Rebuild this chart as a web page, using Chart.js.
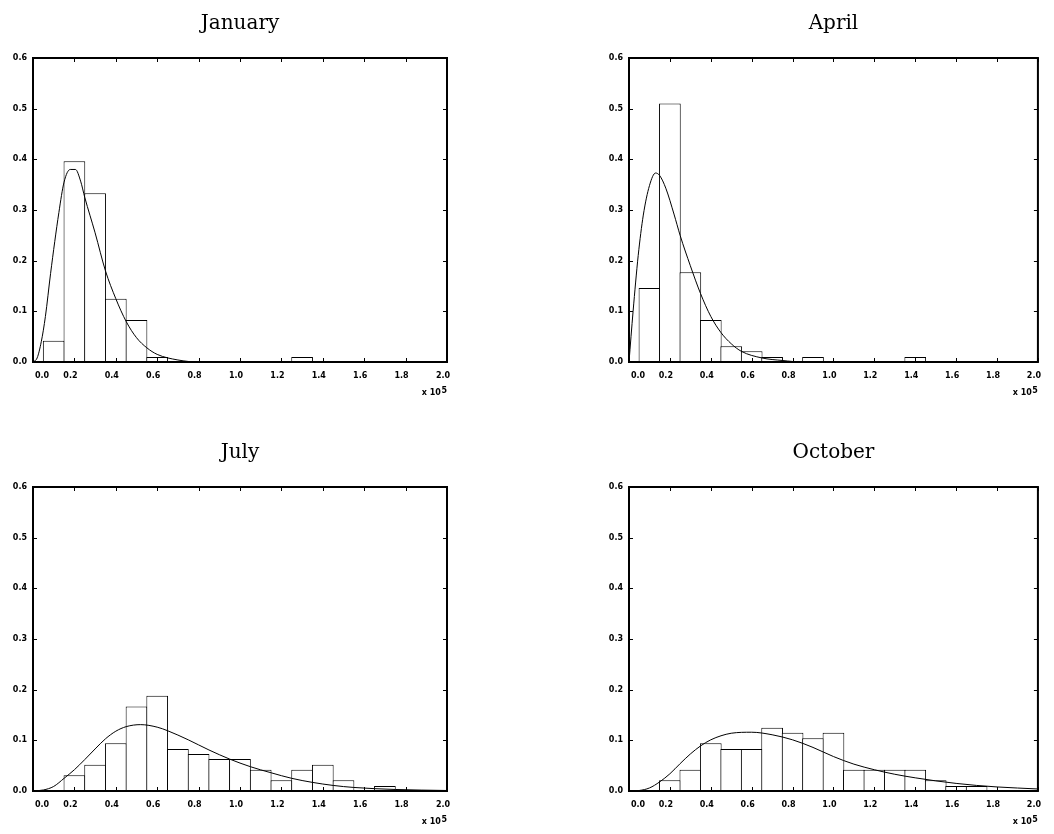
<!DOCTYPE html>
<html>
<head>
<meta charset="utf-8">
<script src="https://cdn.jsdelivr.net/npm/chart.js@4.4.1/dist/chart.umd.min.js"></script>
<style>
  html, body { margin: 0; padding: 0; background: #fff; }
  body { width: 1054px; height: 834px; position: relative; overflow: hidden; }
  .panel { position: absolute; }
</style>
</head>
<body>
<div class="panel" style="left:0;top:0"><canvas id="janChart" width="480" height="410"></canvas></div>
<div class="panel" style="left:596px;top:0"><canvas id="aprChart" width="458" height="410"></canvas></div>
<div class="panel" style="left:0;top:430px"><canvas id="julChart" width="480" height="404"></canvas></div>
<div class="panel" style="left:596px;top:430px"><canvas id="octChart" width="458" height="404"></canvas></div>
<script>
// Histogram bins (centres, x 10^5)
const binCenters = [0.1, 0.2, 0.3, 0.4, 0.5, 0.6, 0.7, 0.8, 0.9, 1.0,
                    1.1, 1.2, 1.3, 1.4, 1.5, 1.6, 1.7, 1.8, 1.9, 2.0];

// Relative frequencies per month
const janFreq = [0.042, 0.396, 0.333, 0.125, 0.083, 0.010, 0, 0, 0, 0,
                 0, 0, 0.010, 0, 0, 0, 0, 0, 0, 0];
const aprFreq = [0.146, 0.510, 0.177, 0.083, 0.031, 0.021, 0.010, 0, 0.010, 0,
                 0, 0, 0, 0.010, 0, 0, 0, 0, 0, 0];
const julFreq = [0, 0.031, 0.052, 0.094, 0.167, 0.188, 0.083, 0.073, 0.063, 0.063,
                 0.042, 0.021, 0.042, 0.052, 0.021, 0, 0.010, 0, 0, 0];
const octFreq = [0, 0.021, 0.042, 0.094, 0.083, 0.083, 0.125, 0.115, 0.104, 0.115,
                 0.042, 0.042, 0.042, 0.042, 0.021, 0.010, 0.010, 0, 0, 0];

// Fitted density curves
const janCurveX = [0, 0.02, 0.04, 0.06, 0.085, 0.125, 0.15, 0.18, 0.205, 0.23, 0.25, 0.30, 0.35, 0.40, 0.45, 0.50, 0.55, 0.60, 0.70, 0.80, 2.0];
const janCurveY = [0, 0.008, 0.04, 0.09, 0.175, 0.295, 0.355, 0.38, 0.38, 0.357, 0.325, 0.255, 0.18, 0.125, 0.08, 0.048, 0.028, 0.015, 0.004, 0, 0];

const aprCurveX = [0, 0.02, 0.045, 0.07, 0.10, 0.13, 0.15, 0.18, 0.22, 0.25, 0.30, 0.35, 0.40, 0.45, 0.50, 0.55, 0.65, 0.75, 0.85, 2.0];
const aprCurveY = [0, 0.10, 0.21, 0.29, 0.348, 0.373, 0.368, 0.343, 0.292, 0.25, 0.19, 0.135, 0.09, 0.058, 0.036, 0.021, 0.008, 0.003, 0, 0];

const julCurveX = [0, 0.05, 0.10, 0.15, 0.20, 0.25, 0.30, 0.35, 0.40, 0.45, 0.52, 0.60, 0.65, 0.75, 0.85, 0.95, 1.05, 1.15, 1.25, 1.35, 1.45, 1.55, 1.75, 2.0];
const julCurveY = [0, 0.002, 0.009, 0.025, 0.042, 0.062, 0.083, 0.103, 0.118, 0.127, 0.131, 0.126, 0.119, 0.101, 0.081, 0.063, 0.048, 0.036, 0.025, 0.017, 0.011, 0.007, 0.003, 0.001];

const octCurveX = [0, 0.05, 0.10, 0.15, 0.20, 0.25, 0.30, 0.35, 0.40, 0.45, 0.50, 0.60, 0.70, 0.80, 0.90, 1.00, 1.10, 1.20, 1.30, 1.40, 1.50, 1.60, 1.70, 1.80, 2.0];
const octCurveY = [0, 0.001, 0.006, 0.018, 0.034, 0.054, 0.073, 0.089, 0.101, 0.109, 0.114, 0.116, 0.111, 0.101, 0.086, 0.068, 0.053, 0.042, 0.033, 0.026, 0.020, 0.015, 0.011, 0.008, 0.004];

// Axis tick labels
const xTicks = ['0.0', '0.2', '0.4', '0.6', '0.8', '1.0', '1.2', '1.4', '1.6', '1.8', '2.0'];
const yTicks = ['0.0', '0.1', '0.2', '0.3', '0.4', '0.5', '0.6'];

const TICK_FONT = { family: 'DejaVu Sans', size: 8, weight: 'bold' };
const TICK_LEN = 4;

// Frame, inner tick marks, title, first x label and exponent
const frameDecor = {
    id: 'frameDecor',
    afterDraw(chart, args, opts) {
        const { ctx, chartArea: a } = chart;
        const xs = chart.scales.x;
        const ys = chart.scales.y;
        ctx.save();
        ctx.strokeStyle = '#000';
        ctx.fillStyle = '#000';

        ctx.lineWidth = 1;
        ctx.beginPath();
        xs.ticks.forEach(t => {
            const px = Math.round(xs.getPixelForValue(t.value)) + 0.5;
            ctx.moveTo(px, a.top);
            ctx.lineTo(px, a.top + TICK_LEN);
            ctx.moveTo(px, a.bottom);
            ctx.lineTo(px, a.bottom - TICK_LEN);
        });
        ys.ticks.forEach(t => {
            const py = Math.round(ys.getPixelForValue(t.value)) + 0.5;
            ctx.moveTo(a.left, py);
            ctx.lineTo(a.left + TICK_LEN, py);
            ctx.moveTo(a.right, py);
            ctx.lineTo(a.right - TICK_LEN, py);
        });
        ctx.stroke();

        ctx.lineWidth = 2;
        ctx.strokeRect(a.left, a.top, a.right - a.left, a.bottom - a.top);

        // first x tick label sits right of the axis
        ctx.font = `${TICK_FONT.weight} ${TICK_FONT.size}px "${TICK_FONT.family}"`;
        ctx.textAlign = 'left';
        ctx.textBaseline = 'middle';
        ctx.fillText(xTicks[0], xs.getPixelForValue(0) + 2, a.bottom + 14);

        // exponent note
        ctx.textBaseline = 'alphabetic';
        ctx.textAlign = 'right';
        const w5 = ctx.measureText('5').width;
        ctx.fillText('5', a.right, a.bottom + 31);
        ctx.fillText('x 10', a.right - w5 - 0.5, a.bottom + 33);

        // title
        ctx.font = '20px "DejaVu Serif"';
        ctx.textAlign = 'center';
        ctx.fillText(opts.title, (a.left + a.right) / 2, a.top - 29);
        ctx.restore();
    }
};

function createHistogram(id, title, freq, curveX, curveY, box) {
    const ctx = document.getElementById(id).getContext('2d');
    return new Chart(ctx, {
        type: 'bar',
        data: {
            datasets: [{
                type: 'line',
                data: curveX.map((x, i) => ({ x: x, y: curveY[i] })),
                borderColor: '#000',
                borderWidth: 1,
                pointRadius: 0,
                cubicInterpolationMode: 'monotone',
                order: 0
            }, {
                type: 'bar',
                data: binCenters.map((c, i) => ({ x: c, y: freq[i] })),
                backgroundColor: '#fff',
                borderColor: '#000',
                borderWidth: 1,
                inflateAmount: 0,
                barThickness: 414 / 20 + 1,
                order: 1
            }]
        },
        options: {
            responsive: false,
            animation: false,
            layout: {
                padding: { left: 0, top: box.top, right: box.right, bottom: 0 }
            },
            plugins: {
                legend: { display: false },
                tooltip: { enabled: false },
                frameDecor: { title: title }
            },
            scales: {
                x: {
                    type: 'linear',
                    offset: false,
                    min: 0,
                    max: 2,
                    grid: { display: false, drawTicks: false, offset: false },
                    border: { display: false },
                    ticks: {
                        stepSize: 0.2,
                        autoSkip: false,
                        maxRotation: 0,
                        padding: 9,
                        labelOffset: -4,
                        color: '#000',
                        font: TICK_FONT,
                        callback: (v, i) => i === 0 ? '' : xTicks[i]
                    },
                    afterFit: (scale) => { scale.height = box.xHeight; }
                },
                y: {
                    min: 0,
                    max: 0.6,
                    grid: { display: false, drawTicks: false },
                    border: { display: false },
                    ticks: {
                        stepSize: 0.1,
                        padding: 6,
                        color: '#000',
                        font: TICK_FONT,
                        callback: (v, i) => yTicks[i]
                    },
                    afterFit: (scale) => { scale.width = 33; }
                }
            }
        },
        plugins: [frameDecor]
    });
}

const topBoxLeft = { top: 58, right: 33, xHeight: 48 };
const topBoxRight = { top: 58, right: 11, xHeight: 48 };
const botBoxLeft = { top: 57, right: 33, xHeight: 43 };
const botBoxRight = { top: 57, right: 11, xHeight: 43 };

createHistogram('janChart', 'January', janFreq, janCurveX, janCurveY, topBoxLeft);
createHistogram('aprChart', 'April', aprFreq, aprCurveX, aprCurveY, topBoxRight);
createHistogram('julChart', 'July', julFreq, julCurveX, julCurveY, botBoxLeft);
createHistogram('octChart', 'October', octFreq, octCurveX, octCurveY, botBoxRight);
</script>
</body>
</html>
